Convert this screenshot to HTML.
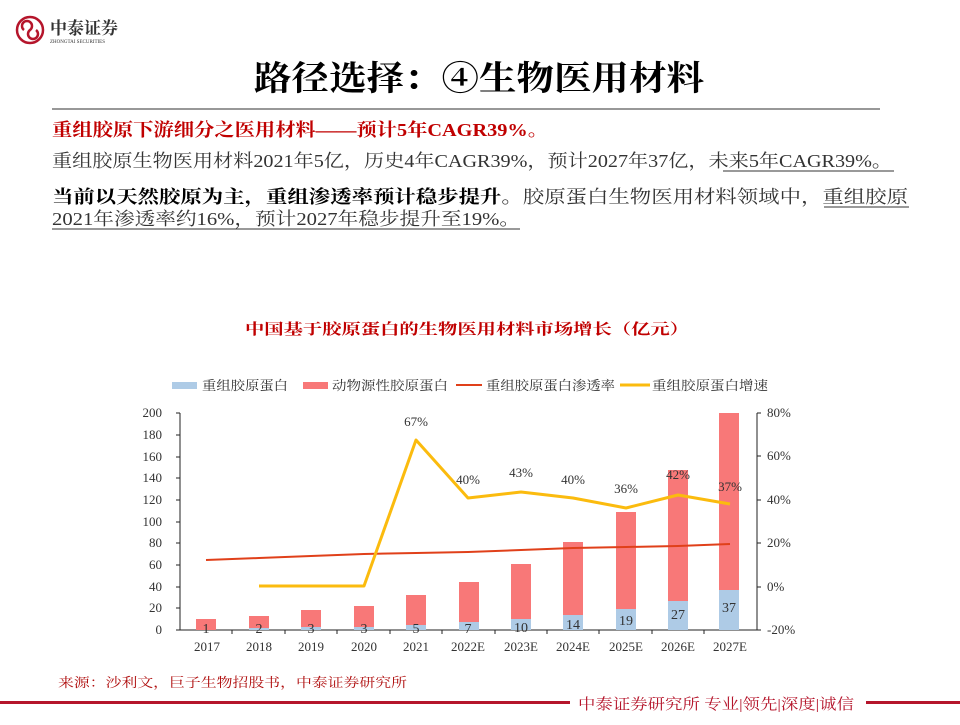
<!DOCTYPE html>
<html><head><meta charset="utf-8"><style>
body{margin:0;width:960px;height:720px;background:#fff;overflow:hidden;font-family:"Liberation Serif","Noto Serif CJK SC",serif;}
svg text{font-family:"Liberation Serif","Noto Serif CJK SC",serif;}
</style></head><body>
<svg width="960" height="720" viewBox="0 0 960 720" xmlns="http://www.w3.org/2000/svg">
<circle cx="30" cy="30" r="13" fill="none" stroke="#b5152b" stroke-width="2.5"/>
<path d="M24 30 a5 5 0 1 1 6 0 a5 5 0 1 0 6 0" fill="none" stroke="#b5152b" stroke-width="2.5"/>
<text x="50" y="34" font-size="17" font-weight="bold" fill="#333" font-family="'Noto Sans CJK SC',sans-serif">中泰证券</text>
<text x="50" y="43" font-size="5" fill="#333" font-family="'Liberation Sans',sans-serif">ZHONGTAI SECURITIES</text>
<text x="254" y="90" font-size="34" font-weight="bold" fill="#000" textLength="450" lengthAdjust="spacingAndGlyphs">路径选择：④生物医用材料</text>
<line x1="52" y1="109" x2="880" y2="109" stroke="#777" stroke-width="1.5"/>
<text x="52" y="136" font-size="18" font-weight="bold" fill="#c00000" textLength="496" lengthAdjust="spacingAndGlyphs">重组胶原下游细分之医用材料——预计5年CAGR39%。</text>
<text x="52" y="167" font-size="18" fill="#333" textLength="840" lengthAdjust="spacingAndGlyphs">重组胶原生物医用材料2021年5亿，历史4年CAGR39%，预计2027年37亿，未来5年CAGR39%。</text>
<line x1="723" y1="171" x2="894" y2="171" stroke="#333" stroke-width="1"/>
<text x="52" y="203" font-size="18" fill="#333" textLength="856" lengthAdjust="spacingAndGlyphs"><tspan font-weight="bold" fill="#000">当前以天然胶原为主，重组渗透率预计稳步提升</tspan>。胶原蛋白生物医用材料领域中，重组胶原</text>
<line x1="824" y1="207" x2="909" y2="207" stroke="#333" stroke-width="1"/>
<text x="52" y="225" font-size="18" fill="#333" textLength="468" lengthAdjust="spacingAndGlyphs">2021年渗透率约16%，预计2027年稳步提升至19%。</text>
<line x1="52" y1="229" x2="520" y2="229" stroke="#333" stroke-width="1"/>
<text x="245" y="334" font-size="15" font-weight="bold" fill="#c00000" textLength="444" lengthAdjust="spacingAndGlyphs">中国基于胶原蛋白的生物医用材料市场增长（亿元）</text>
<rect x="172" y="382" width="25" height="7" fill="#aecbe6"/><text x="202" y="390" font-size="13" fill="#333" textLength="86" lengthAdjust="spacingAndGlyphs">重组胶原蛋白</text>
<rect x="303" y="382" width="25" height="7" fill="#f87878"/><text x="332" y="390" font-size="13" fill="#333" textLength="116" lengthAdjust="spacingAndGlyphs">动物源性胶原蛋白</text>
<line x1="456" y1="385" x2="482" y2="385" stroke="#e0401a" stroke-width="2"/><text x="486" y="390" font-size="13" fill="#333" textLength="129" lengthAdjust="spacingAndGlyphs">重组胶原蛋白渗透率</text>
<line x1="620" y1="385" x2="650" y2="385" stroke="#fbbb0e" stroke-width="3"/><text x="652" y="390" font-size="13" fill="#333" textLength="116" lengthAdjust="spacingAndGlyphs">重组胶原蛋白增速</text>
<g stroke="#222" stroke-width="1">
<line x1="180" y1="413" x2="180" y2="630"/><line x1="180" y1="630" x2="757" y2="630"/><line x1="757" y1="413" x2="757" y2="630"/>
</g>
<g font-size="13" fill="#333" text-anchor="end">
<text x="162" y="634">0</text><text x="162" y="612">20</text><text x="162" y="591">40</text><text x="162" y="569">60</text><text x="162" y="547">80</text><text x="162" y="526">100</text><text x="162" y="504">120</text><text x="162" y="482">140</text><text x="162" y="461">160</text><text x="162" y="439">180</text><text x="162" y="417">200</text>
</g>
<g stroke="#222"><line x1="176" y1="630" x2="180" y2="630"/><line x1="176" y1="608" x2="180" y2="608"/><line x1="176" y1="587" x2="180" y2="587"/><line x1="176" y1="565" x2="180" y2="565"/><line x1="176" y1="543" x2="180" y2="543"/><line x1="176" y1="522" x2="180" y2="522"/><line x1="176" y1="500" x2="180" y2="500"/><line x1="176" y1="478" x2="180" y2="478"/><line x1="176" y1="457" x2="180" y2="457"/><line x1="176" y1="435" x2="180" y2="435"/><line x1="176" y1="413" x2="180" y2="413"/>
<line x1="757" y1="413" x2="761" y2="413"/><line x1="757" y1="456" x2="761" y2="456"/><line x1="757" y1="500" x2="761" y2="500"/><line x1="757" y1="543" x2="761" y2="543"/><line x1="757" y1="587" x2="761" y2="587"/><line x1="757" y1="630" x2="761" y2="630"/></g>
<g font-size="13" fill="#333">
<text x="767" y="417">80%</text><text x="767" y="460">60%</text><text x="767" y="504">40%</text><text x="767" y="547">20%</text><text x="767" y="591">0%</text><text x="767" y="634">-20%</text>
</g>
<g>
<rect x="196" y="619" width="20" height="11" fill="#f87878"/>
<rect x="249" y="616" width="20" height="14" fill="#f87878"/><rect x="249" y="628" width="20" height="2" fill="#aecbe6"/>
<rect x="301" y="610" width="20" height="20" fill="#f87878"/><rect x="301" y="627" width="20" height="3" fill="#aecbe6"/>
<rect x="354" y="606" width="20" height="24" fill="#f87878"/><rect x="354" y="627" width="20" height="3" fill="#aecbe6"/>
<rect x="406" y="595" width="20" height="35" fill="#f87878"/><rect x="406" y="625" width="20" height="5" fill="#aecbe6"/>
<rect x="459" y="582" width="20" height="48" fill="#f87878"/><rect x="459" y="622" width="20" height="8" fill="#aecbe6"/>
<rect x="511" y="564" width="20" height="66" fill="#f87878"/><rect x="511" y="619" width="20" height="11" fill="#aecbe6"/>
<rect x="563" y="542" width="20" height="88" fill="#f87878"/><rect x="563" y="615" width="20" height="15" fill="#aecbe6"/>
<rect x="616" y="512" width="20" height="118" fill="#f87878"/><rect x="616" y="609" width="20" height="21" fill="#aecbe6"/>
<rect x="668" y="470" width="20" height="160" fill="#f87878"/><rect x="668" y="601" width="20" height="29" fill="#aecbe6"/>
<rect x="719" y="413" width="20" height="217" fill="#f87878"/><rect x="719" y="590" width="20" height="40" fill="#aecbe6"/>
</g>
<g font-size="14" fill="#333" text-anchor="middle">
<text x="206" y="633">1</text><text x="259" y="633">2</text><text x="311" y="633">3</text><text x="364" y="633">3</text><text x="416" y="633">5</text><text x="468" y="633">7</text><text x="521" y="632">10</text><text x="573" y="629">14</text><text x="626" y="625">19</text><text x="678" y="619">27</text><text x="729" y="612">37</text>
</g>
<polyline points="206,560 259,558 311,556 364,554 416,553 468,552 521,550 573,548 626,547 678,546 730,544" fill="none" stroke="#e0401a" stroke-width="2"/>
<polyline points="259,586 311,586 364,586 416,440 468,498 521,492 573,498 626,508 678,495 730,504" fill="none" stroke="#fbbb0e" stroke-width="3" stroke-linejoin="round"/>
<g font-size="13" fill="#333" text-anchor="middle">
<text x="416" y="426">67%</text><text x="468" y="484">40%</text><text x="521" y="477">43%</text><text x="573" y="484">40%</text><text x="626" y="493">36%</text><text x="678" y="479">42%</text><text x="730" y="491">37%</text>
</g>
<g font-size="13" fill="#333" text-anchor="middle">
<text x="207" y="651">2017</text><text x="259" y="651">2018</text><text x="311" y="651">2019</text><text x="364" y="651">2020</text><text x="416" y="651">2021</text><text x="468" y="651">2022E</text><text x="521" y="651">2023E</text><text x="573" y="651">2024E</text><text x="626" y="651">2025E</text><text x="678" y="651">2026E</text><text x="730" y="651">2027E</text>
</g>
<g stroke="#222"><line x1="232" y1="630" x2="232" y2="634"/><line x1="285" y1="630" x2="285" y2="634"/><line x1="337" y1="630" x2="337" y2="634"/><line x1="390" y1="630" x2="390" y2="634"/><line x1="442" y1="630" x2="442" y2="634"/><line x1="495" y1="630" x2="495" y2="634"/><line x1="547" y1="630" x2="547" y2="634"/><line x1="599" y1="630" x2="599" y2="634"/><line x1="652" y1="630" x2="652" y2="634"/><line x1="704" y1="630" x2="704" y2="634"/></g>
<text x="58" y="687" font-size="13" fill="#b01010" textLength="349" lengthAdjust="spacingAndGlyphs">来源：沙利文，巨子生物招股书，中泰证券研究所</text>
<rect x="0" y="701" width="570" height="3" fill="#b5152b"/>
<text x="578" y="709" font-size="15" fill="#b5152b" font-family="'Noto Sans CJK SC',sans-serif" textLength="276" lengthAdjust="spacingAndGlyphs">中泰证券研究所 专业|领先|深度|诚信</text>
<rect x="866" y="701" width="94" height="3" fill="#b5152b"/>
</svg>
</body></html>
